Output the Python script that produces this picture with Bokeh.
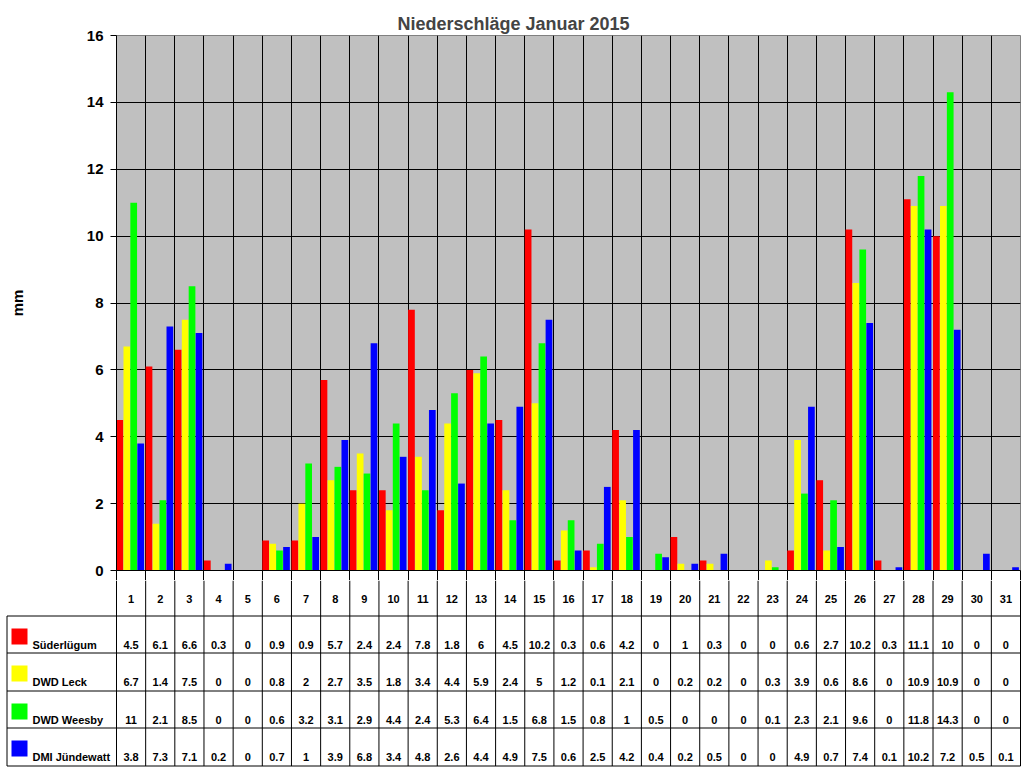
from bokeh.plotting import figure
from bokeh.models import Range1d, FixedTicker, ColumnDataSource
from bokeh.layouts import column
from bokeh.transform import dodge
from bokeh.embed import file_html
from bokeh.resources import INLINE
from bokeh.core.properties import value

# ---------------- data ----------------
days = list(range(1, 32))
day_labels = [str(d) for d in days]
stations = ["Süderlügum", "DWD Leck", "DWD Weesby", "DMI Jündewatt"]
suederluegum = [4.5, 6.1, 6.6, 0.3, 0, 0.9, 0.9, 5.7, 2.4, 2.4, 7.8, 1.8, 6, 4.5, 10.2, 0.3,
                0.6, 4.2, 0, 1, 0.3, 0, 0, 0.6, 2.7, 10.2, 0.3, 11.1, 10, 0, 0]
dwd_leck = [6.7, 1.4, 7.5, 0, 0, 0.8, 2, 2.7, 3.5, 1.8, 3.4, 4.4, 5.9, 2.4, 5, 1.2,
            0.1, 2.1, 0, 0.2, 0.2, 0, 0.3, 3.9, 0.6, 8.6, 0, 10.9, 10.9, 0, 0]
dwd_weesby = [11, 2.1, 8.5, 0, 0, 0.6, 3.2, 3.1, 2.9, 4.4, 2.4, 5.3, 6.4, 1.5, 6.8, 1.5,
              0.8, 1, 0.5, 0, 0, 0, 0.1, 2.3, 2.1, 9.6, 0, 11.8, 14.3, 0, 0]
dmi_juendewatt = [3.8, 7.3, 7.1, 0.2, 0, 0.7, 1, 3.9, 6.8, 3.4, 4.8, 2.6, 4.4, 4.9, 7.5, 0.6,
                  2.5, 4.2, 0.4, 0.2, 0.5, 0, 0, 4.9, 0.7, 7.4, 0.1, 10.2, 7.2, 0.5, 0.1]
y_ticks = [0, 2, 4, 6, 8, 10, 12, 14, 16]
series = [suederluegum, dwd_leck, dwd_weesby, dmi_juendewatt]

# ---------------- styling ----------------
colors = ["#FF0000", "#FFFF00", "#00FF00", "#0000FF"]
offsets = [-0.385, -0.145, 0.09, 0.33]
FONT = value("Liberation Sans")
FRAME_W = 904
COLW = FRAME_W / 31.0
LEFT = 116
AX = 10  # height of the strip under the chart frame (x-axis ticks)

src = ColumnDataSource(dict(day=days, s0=suederluegum, s1=dwd_leck, s2=dwd_weesby, s3=dmi_juendewatt))

p = figure(frame_width=FRAME_W, frame_height=535, x_range=Range1d(0.5, 31.5), y_range=Range1d(0, 16),
           output_backend="svg", toolbar_location=None,
           min_border_left=LEFT, min_border_right=4, min_border_top=35, min_border_bottom=AX,
           background_fill_color="#C0C0C0", outline_line_color="#808080",
           title="Niederschläge Januar 2015")
try:
    p.frame_align = False
except Exception:
    pass
p.title.text_font = "Liberation Sans"
p.title.text_font_size = "18px"
p.title.text_font_style = "bold"
p.title.align = "left"
p.title.offset = 281
p.title.standoff = 3

# x axis: only the column-boundary ticks running down into the table (no labels)
p.xaxis.ticker = FixedTicker(ticks=[k + 0.5 for k in range(32)])
p.xaxis.major_tick_out = AX
p.xaxis.major_tick_in = 0
p.xaxis.major_tick_line_color = "black"
p.xaxis.minor_tick_line_color = None
p.xaxis.major_label_text_font_size = "0px"
p.xaxis.major_label_text_color = None
p.xaxis.major_label_standoff = 0
p.xaxis.axis_line_color = "black"

p.yaxis.ticker = FixedTicker(ticks=y_ticks)
p.yaxis.major_label_text_font = "Liberation Sans"
p.yaxis.major_label_text_font_size = "15px"
p.yaxis.major_label_text_font_style = "bold"
p.yaxis.major_label_text_color = "black"
p.yaxis.major_tick_out = 6
p.yaxis.major_tick_in = 0
p.yaxis.major_label_standoff = 7
p.yaxis.minor_tick_line_color = None
p.yaxis.axis_line_color = "black"
p.yaxis.major_tick_line_color = "black"
p.yaxis.axis_label = "mm"
p.yaxis.axis_label_text_font = "Liberation Sans"
p.yaxis.axis_label_text_font_size = "15px"
p.yaxis.axis_label_text_font_style = "bold"
p.yaxis.axis_label_text_color = "black"
p.yaxis.axis_label_standoff = 58

p.xgrid.ticker = FixedTicker(ticks=[i + 0.5 for i in range(1, 31)])
p.xgrid.grid_line_color = "black"
p.ygrid.ticker = FixedTicker(ticks=y_ticks[1:-1])
p.ygrid.grid_line_color = "black"

for i in range(4):
    p.vbar(x=dodge("day", offsets[i], range=p.x_range), top="s%d" % i, width=0.23,
           source=src, fill_color=colors[i], line_color=None)

# ---------------- table ----------------
# local y coordinates = page pixel rows below the chart frame bottom (570)
x0 = 0.5 - LEFT / COLW
x1 = 31.5 + 1.0 / COLW
t = figure(frame_width=1021, frame_height=198 - AX, x_range=Range1d(x0, x1), y_range=Range1d(198, AX),
           output_backend="svg", toolbar_location=None, x_axis_type=None, y_axis_type=None,
           min_border_left=0, min_border_right=3, min_border_top=0, min_border_bottom=0,
           outline_line_color=None)
try:
    t.frame_align = False
except Exception:
    pass
t.grid.visible = False

row_lines = [45.5, 82.5, 120.5, 157.5, 195.5]
row_tops = [45.5, 82.5, 120.5, 157.5]
xl = x0 + 6.5 / COLW
t.segment(x0=[k + 0.5 for k in range(32)], y0=[AX] * 32, x1=[k + 0.5 for k in range(32)], y1=[195.5] * 32,
          line_color="black", line_width=1)
t.segment(x0=[xl], y0=[45.5], x1=[xl], y1=[195.5], line_color="black", line_width=1)
t.segment(x0=[xl] * len(row_lines), y0=row_lines, x1=[31.5] * len(row_lines), y1=row_lines,
          line_color="black", line_width=1)

t.text(x=days, y=[28] * 31, text=day_labels, text_font=FONT, text_font_size="11px",
       text_font_style="bold", text_align="center", text_baseline="middle", text_color="black")

for i in range(4):
    top = row_tops[i]
    t.scatter(x=[x0 + 19.0 / COLW], y=[top + 20.5], marker="square", size=16,
              fill_color=colors[i], line_color=None)
    t.text(x=[x0 + 32.0 / COLW], y=[top + 29], text=[stations[i]], text_font=FONT,
           text_font_size="11px", text_font_style="bold", text_align="left",
           text_baseline="alphabetic", text_color="black")
    t.text(x=days, y=[top + 29] * 31, text=["%g" % v for v in series[i]], text_font=FONT,
           text_font_size="11px", text_font_style="bold", text_align="center",
           text_baseline="alphabetic", text_color="black")

layout = column(p, t, spacing=0)
open("out.html", "w").write(file_html(layout, INLINE))
